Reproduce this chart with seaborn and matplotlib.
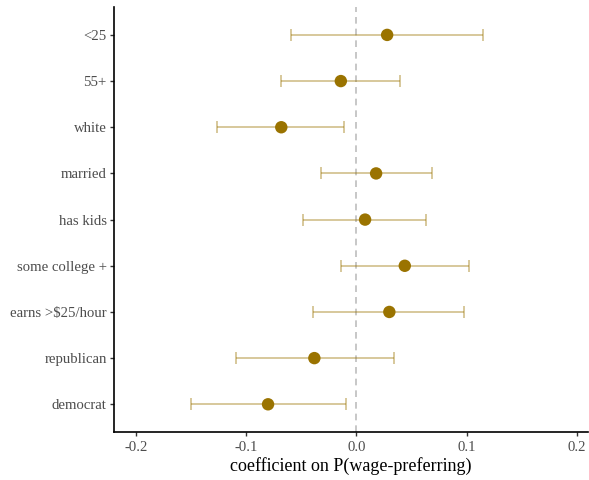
"""Coefficient plot: P(wage-preferring) by respondent group"""
import numpy as np
import pandas as pd
import matplotlib
matplotlib.use("Agg")
import matplotlib.pyplot as plt
import seaborn as sns

# values (top to bottom)
groups = ['<25', '55+', 'white', 'married', 'has kids', 'some college +',
          'earns >$25/hour', 'republican', 'democrat']
coef = [0.028, -0.014, -0.068, 0.018, 0.008, 0.044, 0.030, -0.038, -0.080]
ci_low = [-0.059, -0.068, -0.126, -0.032, -0.048, -0.014, -0.039, -0.109, -0.150]
ci_high = [0.115, 0.040, -0.011, 0.069, 0.063, 0.102, 0.098, 0.034, -0.009]
x_ticks = [-0.2, -0.1, 0.0, 0.1, 0.2]

df = pd.DataFrame({'group': groups, 'coef': coef, 'lo': ci_low, 'hi': ci_high})
df['pos'] = np.arange(len(df))

sns.set_style("ticks")
plt.rcParams['font.family'] = ['Liberation Serif', 'DejaVu Serif']

point_col = '#9A7300'

fig = plt.figure(figsize=(5.89, 4.8), dpi=100)
ax = fig.add_axes([0.193, 0.1, 0.805, 0.885])

# reference line at zero
ax.axvline(0, color='#BEBEBE', linestyle=(0, (4, 3)), linewidth=1.2, zorder=1)

# confidence intervals
ax.errorbar(df['coef'], df['pos'],
            xerr=[df['coef'] - df['lo'], df['hi'] - df['coef']],
            fmt='none', ecolor=point_col, alpha=0.5, elinewidth=1.1,
            capsize=4.3, capthick=1.1, zorder=2)

# point estimates
sns.scatterplot(data=df, x='coef', y='pos', color=point_col, s=80,
                edgecolor='none', ax=ax, zorder=3, legend=False)

ax.set_xlim(-0.22, 0.21)
ax.set_ylim(len(df) - 1 + 0.6, -0.6)
ax.set_xticks(x_ticks)
ax.set_xticklabels([f'{t:.1f}' for t in x_ticks])
ax.set_yticks(df['pos'])
ax.set_yticklabels(df['group'])
ax.set_xlabel('coefficient on P(wage-preferring)', fontsize=13, color='black', labelpad=2)
ax.set_ylabel('')

ax.tick_params(axis='both', colors='#333333', labelcolor='#4D4D4D',
               labelsize=10.6, length=3, width=1)
ax.tick_params(axis='y', pad=2)
for side in ['top', 'right']:
    ax.spines[side].set_visible(False)
for side in ['left', 'bottom']:
    ax.spines[side].set_color('black')
    ax.spines[side].set_linewidth(1.2)

plt.savefig('out.png', dpi=100)
